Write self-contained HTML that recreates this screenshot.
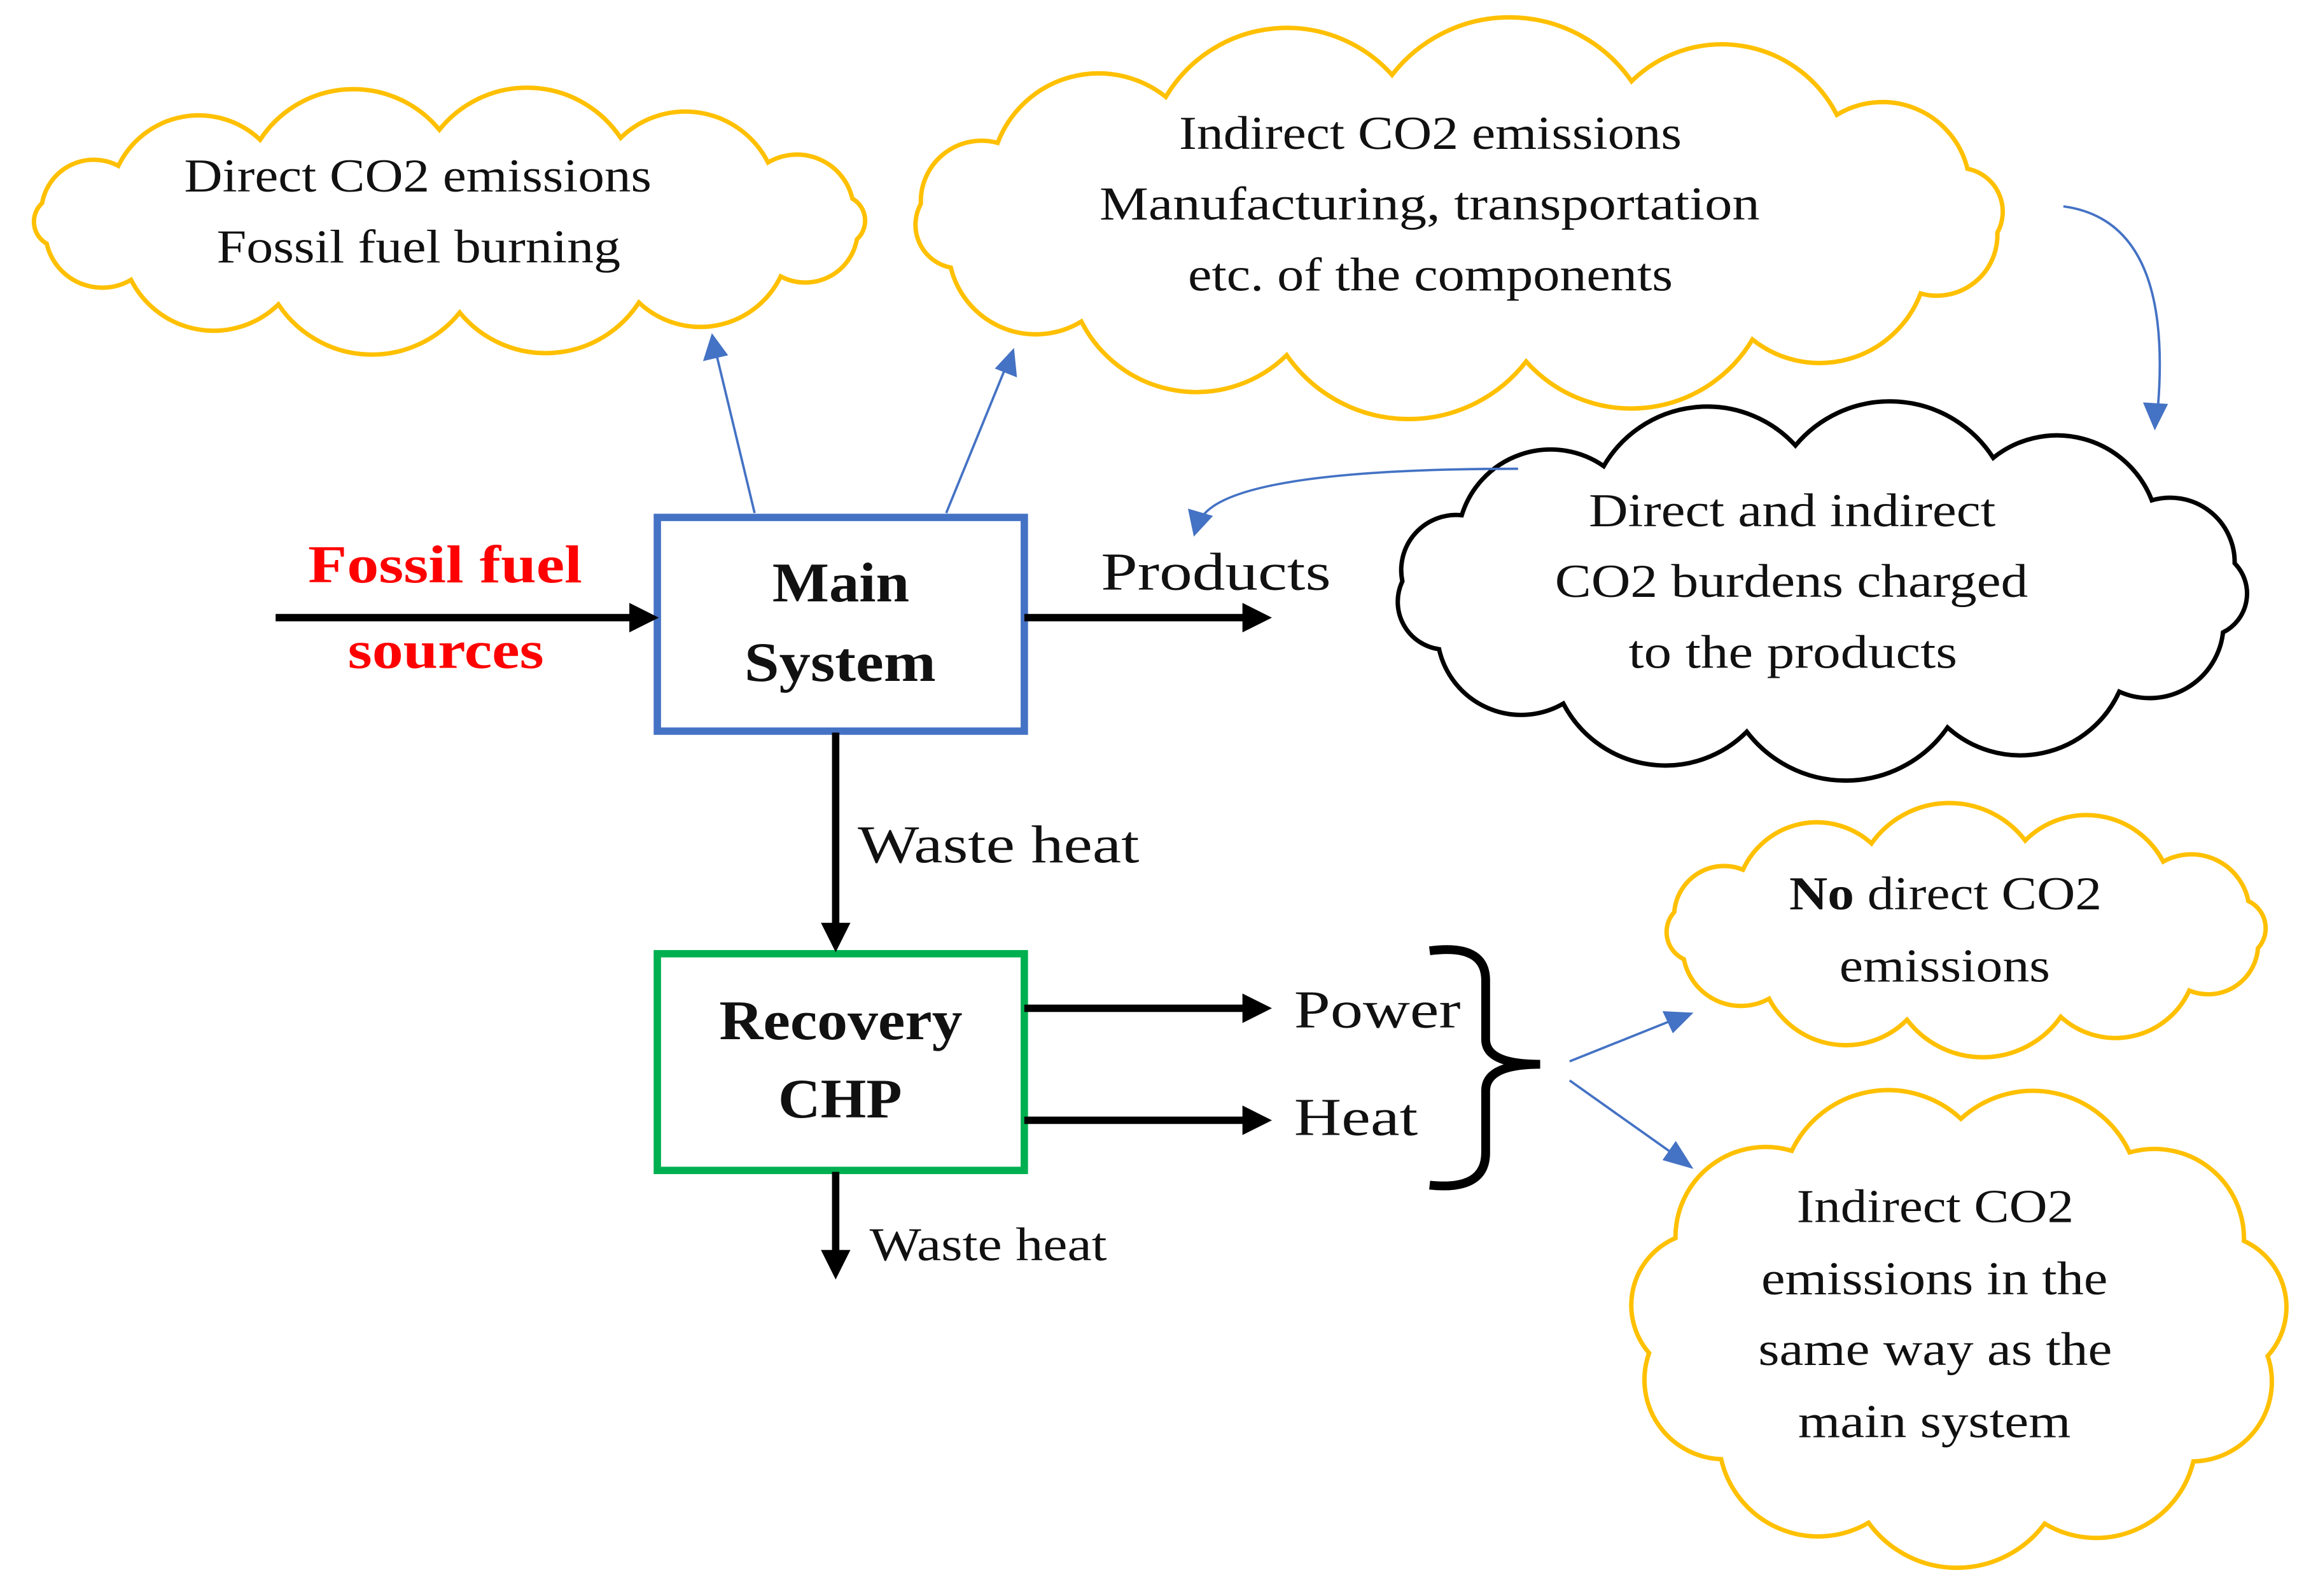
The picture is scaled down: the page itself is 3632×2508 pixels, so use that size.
<!DOCTYPE html>
<html><head><meta charset="utf-8">
<style>
html,body{margin:0;padding:0;background:#fff;}
svg{display:block;}
text{font-family:"Liberation Serif",serif;fill:#111;}
</style></head>
<body>
<svg id="s" width="3632" height="2508" viewBox="0 0 1568 1082.7" xmlns="http://www.w3.org/2000/svg">
<g id="clouds"></g>

<rect x="446" y="351" width="249" height="145" fill="none" stroke="#4472c4" stroke-width="5"/>
<rect x="446" y="647" width="249" height="147" fill="none" stroke="#00b050" stroke-width="5"/>
<g font-size="38" font-weight="bold" lengthAdjust="spacingAndGlyphs">
<text x="524" y="408" textLength="93" lengthAdjust="spacingAndGlyphs">Main</text>
<text x="505" y="462" textLength="130" lengthAdjust="spacingAndGlyphs">System</text>
<text x="488" y="705" textLength="165" lengthAdjust="spacingAndGlyphs">Recovery</text>
<text x="528" y="758" textLength="84" lengthAdjust="spacingAndGlyphs">CHP</text>
</g>

<g stroke="#000" stroke-width="5" fill="none">
<line x1="187" y1="419" x2="430" y2="419"/>
<line x1="695" y1="419" x2="846" y2="419"/>
<line x1="567" y1="497" x2="567" y2="630"/>
<line x1="695" y1="684" x2="846" y2="684"/>
<line x1="695" y1="760" x2="846" y2="760"/>
<line x1="567" y1="795" x2="567" y2="852"/>
<path d="M970 645 Q1008 640 1008 665 L1008 705 Q1008 722 1045 722 Q1008 722 1008 740 L1008 782 Q1008 808 970 804" stroke-width="6"/>
</g>
<g fill="#000">
<polygon points="447,419 427,409 427,429"/>
<polygon points="863,419 843,409 843,429"/>
<polygon points="567,646 557,626 577,626"/>
<polygon points="863,684 843,674 843,694"/>
<polygon points="863,760 843,750 843,770"/>
<polygon points="567,868 557,848 577,848"/>
</g>

<g stroke="#4472c4" stroke-width="1.6" fill="none">
<line x1="512" y1="348" x2="486" y2="240"/>
<line x1="642" y1="348" x2="682" y2="250"/>
<path d="M1400 140 Q1475 150 1464 278"/>
<path d="M1030 318 Q840 318 816 350"/>
<line x1="1065" y1="720" x2="1135" y2="692"/>
<line x1="1065" y1="733" x2="1137" y2="784"/>
</g>
<g fill="#4472c4">
<polygon points="483,226 477,245 494,241"/>
<polygon points="688,236 675,250 690,256"/>
<polygon points="1462,292 1454,273 1471,274"/>
<polygon points="810,364 806,345 823,350"/>
<polygon points="1149,687 1128,686 1135,701"/>
<polygon points="1149,793 1137,774 1128,787"/>
</g>

<text x="209" y="395" font-size="36" font-weight="bold" style="fill:#f00" textLength="186" lengthAdjust="spacingAndGlyphs">Fossil fuel</text>
<text x="236" y="453" font-size="36" font-weight="bold" style="fill:#f00" textLength="133" lengthAdjust="spacingAndGlyphs">sources</text>
<text x="747" y="400" font-size="36" textLength="156" lengthAdjust="spacingAndGlyphs">Products</text>
<text x="582" y="585" font-size="36" textLength="191" lengthAdjust="spacingAndGlyphs">Waste heat</text>
<text x="878" y="697" font-size="36" textLength="113" lengthAdjust="spacingAndGlyphs">Power</text>
<text x="878" y="770" font-size="36" textLength="84" lengthAdjust="spacingAndGlyphs">Heat</text>
<text x="590" y="855" font-size="32" textLength="161" lengthAdjust="spacingAndGlyphs">Waste heat</text>

<g font-size="32">
<text x="125" y="130" textLength="317" lengthAdjust="spacingAndGlyphs">Direct CO2 emissions</text>
<text x="147" y="178" textLength="274" lengthAdjust="spacingAndGlyphs">Fossil fuel burning</text>
<text x="800" y="101" textLength="341" lengthAdjust="spacingAndGlyphs">Indirect CO2 emissions</text>
<text x="746" y="149" textLength="448" lengthAdjust="spacingAndGlyphs">Manufacturing, transportation</text>
<text x="806" y="197" textLength="329" lengthAdjust="spacingAndGlyphs">etc. of the components</text>
<text x="1078" y="357" textLength="276" lengthAdjust="spacingAndGlyphs">Direct and indirect</text>
<text x="1055" y="405" textLength="321" lengthAdjust="spacingAndGlyphs">CO2 burdens charged</text>
<text x="1105" y="453" textLength="223" lengthAdjust="spacingAndGlyphs">to the products</text>
<text x="1214" y="617" textLength="212" lengthAdjust="spacingAndGlyphs"><tspan font-weight="bold">No</tspan> direct CO2</text>
<text x="1248" y="666" textLength="143" lengthAdjust="spacingAndGlyphs">emissions</text>
<text x="1219" y="829" textLength="188" lengthAdjust="spacingAndGlyphs">Indirect CO2</text>
<text x="1195" y="878" textLength="235" lengthAdjust="spacingAndGlyphs">emissions in the</text>
<text x="1193" y="926" textLength="240" lengthAdjust="spacingAndGlyphs">same way as the</text>
<text x="1220" y="975" textLength="185" lengthAdjust="spacingAndGlyphs">main system</text>
</g>
</svg>
<script>
(function(){
var g=document.getElementById('clouds');
function cloud(cx,cy,rx,ry,n,col,ph){
 var pts=[];
 for(var i=0;i<n;i++){var a=ph+i*2*Math.PI/n;pts.push([cx+rx*Math.cos(a),cy+ry*Math.sin(a)]);}
 var d='M'+pts[0][0].toFixed(1)+' '+pts[0][1].toFixed(1);
 for(var i=1;i<=n;i++){var p=pts[i%n],q=pts[i-1];
  var ch=Math.hypot(p[0]-q[0],p[1]-q[1]);var r=ch*0.62;
  d+=' A'+r.toFixed(1)+' '+r.toFixed(1)+' 0 0 1 '+p[0].toFixed(1)+' '+p[1].toFixed(1);}
 d+='Z';
 var e=document.createElementNS('http://www.w3.org/2000/svg','path');
 e.setAttribute('d',d);e.setAttribute('fill','none');e.setAttribute('stroke',col);e.setAttribute('stroke-width','3');
 g.appendChild(e);
}
var Y='#ffc000';
cloud(305,150,282,62,14,Y,0.2);
cloud(990,148,367,98,14,Y,0.1);
cloud(1236,400,285,98,13,'#000',0.3);
cloud(1334,631,202,62,12,Y,0.2);
cloud(1329,899,212,140,11,Y,0.15);
})();
</script>
</body></html>
